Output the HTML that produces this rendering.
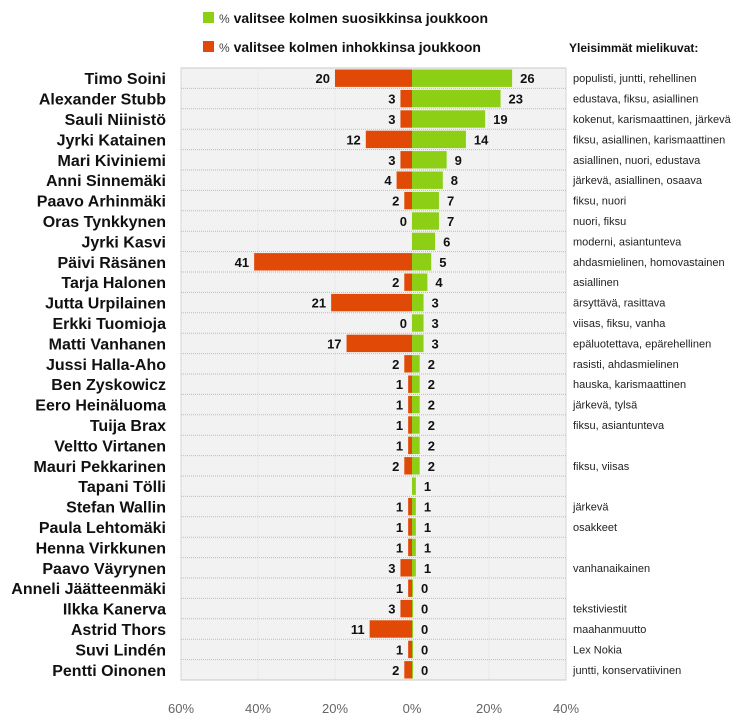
<!DOCTYPE html>
<html><head><meta charset="utf-8"><style>
body{margin:0;background:#fff;width:756px;height:723px;overflow:hidden;font-family:"Liberation Sans","DejaVu Sans",sans-serif}
</style></head><body>
<svg id="c" width="756" height="723" xmlns="http://www.w3.org/2000/svg">
<g>
<rect x="203" y="12" width="11" height="11" fill="#8ccf14"/>
<text x="219" y="23" font-size="14" fill="#111"><tspan font-size="12" fill="#444">%</tspan> <tspan font-weight="bold">valitsee kolmen suosikkinsa joukkoon</tspan></text>
<rect x="203" y="41" width="11" height="11" fill="#e04a06"/>
<text x="219" y="52" font-size="14" fill="#111"><tspan font-size="12" fill="#444">%</tspan> <tspan font-weight="bold">valitsee kolmen inhokkinsa joukkoon</tspan></text>
</g>
<text x="569" y="52" font-size="12" font-weight="bold" fill="#111">Yleisimmät mielikuvat:</text>
<g id="plot"></g>
</svg>
<script>
const names=["Timo Soini","Alexander Stubb","Sauli Niinistö","Jyrki Katainen","Mari Kiviniemi","Anni Sinnemäki","Paavo Arhinmäki","Oras Tynkkynen","Jyrki Kasvi","Päivi Räsänen","Tarja Halonen","Jutta Urpilainen","Erkki Tuomioja","Matti Vanhanen","Jussi Halla-Aho","Ben Zyskowicz","Eero Heinäluoma","Tuija Brax","Veltto Virtanen","Mauri Pekkarinen","Tapani Tölli","Stefan Wallin","Paula Lehtomäki","Henna Virkkunen","Paavo Väyrynen","Anneli Jäätteenmäki","Ilkka Kanerva","Astrid Thors","Suvi Lindén","Pentti Oinonen"];
const favorites=[26,23,19,14,9,8,7,7,6,5,4,3,3,3,2,2,2,2,2,2,1,1,1,1,1,0,0,0,0,0];
const dislikes=[20,3,3,12,3,4,2,0,null,41,2,21,0,17,2,1,1,1,1,2,null,1,1,1,3,1,3,11,1,2];
const descriptions=["populisti, juntti, rehellinen","edustava, fiksu, asiallinen","kokenut, karismaattinen, järkevä","fiksu, asiallinen, karismaattinen","asiallinen, nuori, edustava","järkevä, asiallinen, osaava","fiksu, nuori","nuori, fiksu","moderni, asiantunteva","ahdasmielinen, homovastainen","asiallinen","ärsyttävä, rasittava","viisas, fiksu, vanha","epäluotettava, epärehellinen","rasisti, ahdasmielinen","hauska, karismaattinen","järkevä, tylsä","fiksu, asiantunteva","","fiksu, viisas","","järkevä","osakkeet","","vanhanaikainen","","tekstiviestit","maahanmuutto","Lex Nokia","juntti, konservatiivinen"];
const ticks=[-60,-40,-20,0,20,40];
const tickLabels=["60%","40%","20%","0%","20%","40%"];
const NS="http://www.w3.org/2000/svg";
const X0=181,X1=566,TOP=68,BOT=680;
const x=v=>X0+(v+60)/100*(X1-X0);
const rowH=(BOT-TOP)/names.length;
const y=i=>TOP+i*rowH;
const g=document.getElementById('plot');
function mk(t,a,p){const e=document.createElementNS(NS,t);for(const k in a)e.setAttribute(k,a[k]);(p||g).appendChild(e);return e;}
const bg=mk('rect',{x:X0,y:TOP,width:X1-X0,height:BOT-TOP,fill:'#f2f2f2',stroke:'#c8c8c8'});


ticks.forEach((t,k)=>{
 const l=mk('line',{x1:x(t),x2:x(t),y1:TOP,y2:BOT,stroke:'#e2e2e2','stroke-dasharray':'1,1'});
 
 
 const tx=mk('text',{x:x(t),y:713,'font-size':13,fill:'#666','text-anchor':'middle'});
 tx.textContent=tickLabels[k];
 
 
});
names.forEach((n,i)=>{
 const yy=y(i);
 if(i>0){const s=mk('line',{x1:X0,x2:X1,y1:yy,y2:yy,stroke:'#bbb','stroke-dasharray':'1,1'});
 
 }
 const cy=yy+rowH/2;
 const nm=mk('text',{x:166,y:cy+6,'font-size':16,'font-weight':'bold','text-anchor':'end',fill:'#111'});
 nm.textContent=n;
 
 
 const d=dislikes[i];
 if(d!==null){
  if(d>0){const r=mk('rect',{x:x(-d),y:yy+1.5,width:x(0)-x(-d),height:rowH-3,fill:'#e04a06'});
  
  }
  const t=mk('text',{x:x(-d)-5,y:cy+5,'font-size':13,'font-weight':'bold','text-anchor':'end',fill:'#111'});
  t.textContent=d;
  
  
 }
 const f=favorites[i];
 const w=Math.max(x(f)-x(0),1);
 const b=mk('rect',{x:x(0),y:yy+1.5,width:w,height:rowH-3,fill:'#8ccf14'});
 
 
 const t2=mk('text',{x:x(0)+w+8,y:cy+5,'font-size':13,'font-weight':'bold',fill:'#111'});
 t2.textContent=f;
 
 
 if(descriptions[i]){const ds=mk('text',{x:573,y:cy+4,'font-size':11,fill:'#222'});
 ds.textContent=descriptions[i];
 
 }
});
</script>
</body></html>
